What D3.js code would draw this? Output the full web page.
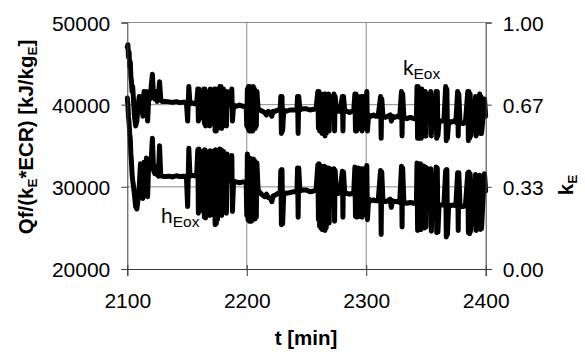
<!DOCTYPE html>
<html>
<head>
<meta charset="utf-8">
<script src="https://cdn.jsdelivr.net/npm/d3@7"></script>
<style>
  html, body { margin: 0; padding: 0; background: #fff; }
  svg { display: block; }
  text { font-family: "Liberation Sans", Arial, sans-serif; fill: #000; }
</style>
</head>
<body>
<svg id="chart" width="585" height="354"></svg>
<script>
// Time axis (minutes) shared by both recorded series
const minutes = [
  2100,2100.5,2101,2101.5,2102,2102.5,2103,2103.5,2104,2104.5,
  2105,2106,2107,2108,2109,2110,2111,2112,2113,2114,
  2115,2116,2117,2118,2119,2120,2121,2122,2123,2124,
  2125,2126,2127,2128,2129,2132,2135,2138,2141,2144,
  2147,2149.5,2150.5,2151.5,2152.5,2154,2156,2158,2159,2159.5,
  2160,2160.5,2161,2162,2163,2164,2164.5,2165,2165.5,2166,
  2166.5,2167.5,2168.5,2169,2169.5,2170,2171,2172,2173,2173.5,
  2174,2174.5,2175,2175.5,2176.5,2177.5,2178,2178.5,2179,2179.5,
  2180,2180.5,2181.5,2182.5,2183,2183.5,2184.5,2186,2187.5,2188,
  2189,2191,2194,2197,2199.5,2200,2200.5,2201,2201.5,2202,
  2202.5,2203,2203.5,2204,2204.5,2205,2205.5,2206,2206.5,2207,
  2207.5,2208,2208.5,2209.5,2211,2213,2215,2216.5,2218,2220,
  2221,2222,2224,2226,2228,2228.5,2229,2229.5,2230,2231,
  2233,2236,2239,2242,2242.5,2243,2243.5,2244.5,2247,2250,
  2253,2256,2258,2259.5,2260,2260.5,2261,2261.5,2262,2262.5,
  2263,2264,2265,2265.5,2266,2266.5,2267.5,2268.5,2269,2269.5,
  2270.5,2271.5,2273,2273.5,2274,2275,2276.5,2278,2280,2280.5,
  2281,2282,2284,2286,2288,2289.5,2290.5,2291,2291.5,2292,
  2292.5,2293,2293.5,2294,2295,2296,2296.5,2297,2297.5,2298,
  2299,2300.5,2301,2302,2304,2306,2308,2310,2312,2312.5,
  2313,2314,2316,2318,2320,2321,2322,2324,2326,2328,
  2329.5,2330,2330.5,2331.5,2334,2337,2340,2342,2342.5,2343,
  2343.5,2344,2344.5,2345,2345.5,2346,2346.5,2347.5,2348.5,2349,
  2349.5,2350,2350.5,2351.5,2353,2354,2354.5,2355,2357,2358.5,
  2359,2359.5,2360,2361,2363,2365,2366.5,2367,2367.5,2368,
  2369,2371,2373,2375,2376.5,2377,2377.5,2378.5,2381,2383,
  2385,2385.5,2386,2386.5,2387,2387.5,2388.5,2390,2391.5,2392,
  2393,2395,2395.5,2396,2396.5,2397.5,2399,2400
];

// Energy utilisation factor k_Eox (right axis)
const kEox = [
  0.90,0.91,0.86,0.88,0.82,0.84,0.78,0.76,0.72,0.74,
  0.70,0.62,0.58,0.60,0.66,0.70,0.64,0.70,0.62,0.72,
  0.66,0.72,0.60,0.70,0.69,0.74,0.79,0.70,0.69,0.72,
  0.68,0.69,0.76,0.69,0.68,0.680,0.678,0.676,0.679,0.675,
  0.677,0.676,0.60,0.74,0.67,0.675,0.67,0.67,0.73,0.60,
  0.73,0.61,0.72,0.67,0.66,0.73,0.59,0.73,0.58,0.72,
  0.60,0.66,0.72,0.58,0.73,0.59,0.66,0.66,0.73,0.56,
  0.73,0.56,0.72,0.57,0.66,0.74,0.58,0.74,0.57,0.73,
  0.58,0.73,0.66,0.72,0.58,0.72,0.66,0.665,0.73,0.60,
  0.665,0.66,0.665,0.66,0.66,0.58,0.73,0.57,0.74,0.56,
  0.74,0.56,0.73,0.57,0.73,0.56,0.74,0.57,0.73,0.57,
  0.72,0.58,0.72,0.65,0.645,0.64,0.635,0.625,0.64,0.63,
  0.62,0.64,0.64,0.645,0.65,0.70,0.55,0.70,0.56,0.645,
  0.64,0.645,0.645,0.645,0.70,0.55,0.70,0.645,0.65,0.65,
  0.645,0.648,0.65,0.72,0.57,0.72,0.56,0.71,0.56,0.71,
  0.55,0.64,0.71,0.54,0.71,0.55,0.64,0.71,0.56,0.70,
  0.64,0.63,0.71,0.56,0.70,0.64,0.64,0.64,0.70,0.56,
  0.70,0.64,0.64,0.635,0.64,0.64,0.71,0.56,0.71,0.56,
  0.70,0.57,0.70,0.57,0.64,0.70,0.56,0.70,0.57,0.70,
  0.635,0.72,0.56,0.625,0.62,0.625,0.62,0.62,0.70,0.53,
  0.69,0.62,0.615,0.62,0.625,0.60,0.62,0.615,0.62,0.615,
  0.72,0.54,0.71,0.615,0.61,0.615,0.61,0.61,0.74,0.53,
  0.74,0.53,0.73,0.54,0.73,0.53,0.73,0.61,0.72,0.54,
  0.72,0.54,0.71,0.605,0.61,0.72,0.54,0.60,0.605,0.72,
  0.53,0.72,0.54,0.60,0.60,0.60,0.74,0.52,0.73,0.53,
  0.60,0.595,0.60,0.595,0.72,0.54,0.71,0.595,0.59,0.595,
  0.72,0.52,0.72,0.53,0.71,0.54,0.60,0.595,0.70,0.54,
  0.595,0.71,0.55,0.70,0.55,0.60,0.69,0.62
];

// Specific heat release h_Eox in kJ/kg_E (left axis)
const hEox = [
  40800,40000,38500,37800,36500,35800,34000,33000,31500,30800,
  30300,29000,27600,27300,28500,30000,32800,29000,28600,33000,
  31000,33500,28800,33200,32500,33200,35900,32000,31600,32500,
  31500,31300,35000,31400,31300,31250,31300,31200,31350,31250,
  31300,31250,27600,34700,31300,31400,31350,31300,34500,26800,
  34600,27000,34300,31200,31000,34400,26300,34500,26200,34200,
  26800,31000,34300,26500,34400,26600,30900,30800,34400,25400,
  34500,25500,34300,26000,30800,34600,26700,34500,26500,34400,
  26900,34300,30700,34000,26800,34000,30700,30700,33800,27000,
  30700,30600,30500,30600,30500,26500,34000,26000,33600,25800,
  33500,25900,33400,25800,33300,26000,33400,26200,33200,26100,
  33000,26300,32900,29600,29300,29000,28800,29100,28700,28600,
  28200,28900,29000,29200,29300,32000,25400,32100,25500,29300,
  29200,29300,29400,29400,32300,26300,32300,29500,29600,29600,
  29400,29500,29600,32700,26000,32800,25200,32600,25000,32500,
  24800,29000,32500,24700,32400,25000,29200,32300,25600,32200,
  29300,29000,32200,25800,32000,29300,29200,29300,31900,26300,
  31800,29200,29200,29100,29200,29100,32400,26400,32300,26300,
  32200,26500,32300,26400,29000,32200,26300,32100,26500,32200,
  28700,32600,26000,28500,28300,28400,28300,28300,32000,24200,
  31800,28300,28200,28300,28500,27500,28300,28200,28200,28100,
  32500,25100,32300,28100,28000,28100,28000,28000,32900,24700,
  32800,24800,32700,25000,32800,24800,32600,28000,32500,25000,
  32400,25100,32300,27900,27900,32200,24600,27800,27900,32400,
  24400,32300,24500,27800,27800,27800,32000,23900,32100,24200,
  27800,27700,27800,27700,31700,24700,31700,27700,27600,27700,
  31700,24400,31800,24300,31600,24600,27800,27700,31500,24700,
  27600,31400,24800,31300,24900,27700,31600,29500
];

// Axis ticks
const timeTicks = [2100, 2200, 2300, 2400];
const leftTicks = [20000, 30000, 40000, 50000];
const rightTicks = [0, 1 / 3, 2 / 3, 1];
const rightTickLabels = ["0.00", "0.33", "0.67", "1.00"];

const svg = d3.select("#chart");
const plot = { left: 127.3, right: 485.7, top: 22.5, bottom: 269 };

const x = d3.scaleLinear().domain([2100, 2400]).range([plot.left, plot.right]);
const yL = d3.scaleLinear().domain([20000, 50000]).range([plot.bottom, plot.top]);
const yR = d3.scaleLinear().domain([0, 1]).range([plot.bottom, plot.top]);

const gridColor = "#8a8a8a";
const axisColor = "#3a3a3a";

// Gridlines
const grid = svg.append("g").attr("stroke", gridColor).attr("stroke-width", 1);
grid.selectAll("line.h").data([30000, 40000, 50000]).join("line")
  .attr("x1", plot.left).attr("x2", plot.right)
  .attr("y1", d => yL(d)).attr("y2", d => yL(d));
grid.selectAll("line.v").data([2200, 2300]).join("line")
  .attr("x1", d => x(d)).attr("x2", d => x(d))
  .attr("y1", plot.top).attr("y2", plot.bottom);

// Series
const rows = minutes.map((t, i) => ({ t, k: kEox[i], h: hEox[i] }));
const lineStyle = sel => sel.attr("fill", "none").attr("stroke", "#000")
  .attr("stroke-width", 5).attr("stroke-linejoin", "round").attr("stroke-linecap", "round");

svg.append("path").datum(rows).call(lineStyle)
  .attr("d", d3.line().x(d => x(d.t)).y(d => yL(d.h)));
svg.append("path").datum(rows).call(lineStyle)
  .attr("d", d3.line().x(d => x(d.t)).y(d => yR(d.k)));

// Axes
function styleAxis(g) {
  g.select(".domain").attr("stroke", axisColor).attr("stroke-width", 1);
  g.selectAll(".tick line").attr("stroke", axisColor);
  g.selectAll(".tick text").attr("font-size", 21).attr("fill", "#000")
    .attr("font-family", '"Liberation Sans", Arial, sans-serif');
}

const axB = svg.append("g").attr("transform", `translate(0,${plot.bottom})`)
  .call(d3.axisBottom(x).tickValues(timeTicks).tickFormat(d3.format("d")).tickSizeOuter(0).tickSize(7).tickPadding(21))
  .call(styleAxis);
axB.selectAll(".tick line").attr("y1", -4);
axB.selectAll(".tick text").attr("dy", "0");
axB.selectAll(".tick text").attr("y", 39);

const axL = svg.append("g").attr("transform", `translate(${plot.left},0)`)
  .call(d3.axisLeft(yL).tickValues(leftTicks).tickFormat(d3.format("d")).tickSizeOuter(0).tickSize(6).tickPadding(11))
  .call(styleAxis);
axL.selectAll(".tick text").attr("dy", "0.36em");

const axR = svg.append("g").attr("transform", `translate(${plot.right},0)`)
  .call(d3.axisRight(yR).tickValues(rightTicks).tickFormat((d, i) => rightTickLabels[i]).tickSizeOuter(0).tickSize(6).tickPadding(11))
  .call(styleAxis);
axR.selectAll(".tick text").attr("dy", "0.36em");

// Axis titles
const bold = sel => sel.attr("font-weight", "bold").attr("font-size", 20.5);

svg.append("text").call(bold).attr("text-anchor", "middle")
  .attr("x", 306).attr("y", 345).text("t [min]");

const lt = svg.append("text").call(bold).attr("text-anchor", "middle")
  .attr("transform", "translate(33,137) rotate(-90)");
lt.append("tspan").text("Qf/(k");
lt.append("tspan").attr("font-size", 13.5).attr("dy", 4).text("E");
lt.append("tspan").attr("dy", -4).text("*ECR) [kJ/kg");
lt.append("tspan").attr("font-size", 13.5).attr("dy", 4).text("E");
lt.append("tspan").attr("dy", -4).text("]");

const rt = svg.append("text").call(bold).attr("text-anchor", "middle")
  .attr("transform", "translate(573,185) rotate(-90)");
rt.append("tspan").text("k");
rt.append("tspan").attr("font-size", 13.5).attr("dy", 4).text("E");

// Series labels
const kl = svg.append("text").attr("font-size", 21).attr("x", 403).attr("y", 75);
kl.append("tspan").text("k");
kl.append("tspan").attr("font-size", 15.5).attr("dy", 3.5).text("Eox");

const hl = svg.append("text").attr("font-size", 21).attr("x", 161).attr("y", 223);
hl.append("tspan").text("h");
hl.append("tspan").attr("font-size", 15.5).attr("dy", 3.5).text("Eox");
</script>
</body>
</html>
